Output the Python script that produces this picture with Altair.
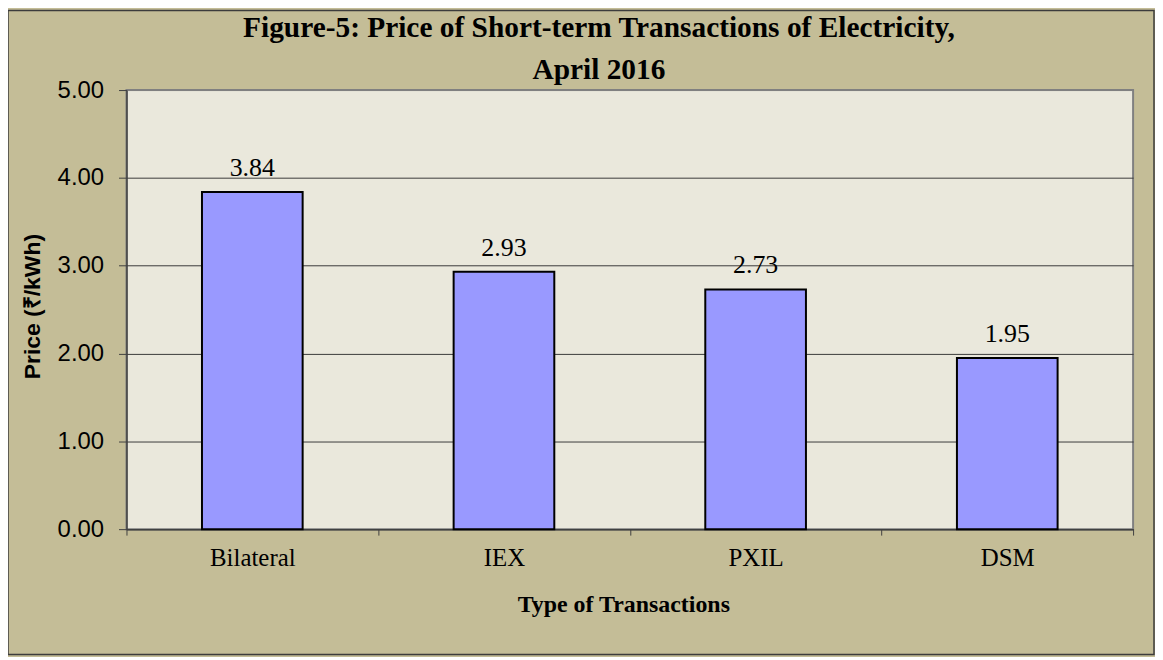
import altair as alt
import pandas as pd

categories = ["Bilateral", "IEX", "PXIL", "DSM"]
prices = [3.84, 2.93, 2.73, 1.95]
y_ticks = [0, 1, 2, 3, 4, 5]

df = pd.DataFrame({"type": categories, "price": prices})

SERIF = "Liberation Serif"
SANS = "Liberation Sans"

x_enc = alt.X(
    "type:N",
    sort=categories,
    scale=alt.Scale(paddingInner=0, paddingOuter=0),
    axis=alt.Axis(
        title="Type of Transactions",
        titleFont=SERIF, titleFontSize=24, titleFontWeight="bold", titleColor="black",
        titleBaseline="alphabetic", titleX=499, titleY=83, titleAnchor="start", titleAlign="center",
        labelFont=SERIF, labelFontSize=25, labelColor="black", labelAngle=0,
        labelBaseline="alphabetic", labelPadding=31,
        tickBand="extent", tickSize=6, tickColor="#404040", tickWidth=1,
        domainColor="#404040", domainWidth=1.5,
        grid=False,
    ),
)

y_enc = alt.Y(
    "price:Q",
    scale=alt.Scale(domain=[0, 5], nice=False, zero=True),
    axis=alt.Axis(
        title="Price (₹/kWh)",
        titleFont=SANS, titleFontSize=23, titleFontWeight="bold", titleColor="black",
        titleAngle=-90, titleBaseline="middle", titleAlign="center",
        titleX=-94, titleY=217, titleAnchor="start",
        values=y_ticks, format=".2f",
        labelFont=SANS, labelFontSize=24, labelColor="black", labelPadding=15,
        tickSize=8, tickColor="#404040", tickWidth=1,
        domainColor="#404040", domainWidth=1.5,
        grid=True,
        gridColor=alt.condition("datum.value >= 5", alt.value("#808080"), alt.value("#3a3a3a")),
        gridWidth=1,
    ),
)

bars = alt.Chart(df).mark_bar(
    color="#9999FF", stroke="black", strokeWidth=2, width=alt.RelativeBandSize(0.4)
).encode(x=x_enc, y=y_enc)

labels = alt.Chart(df).mark_text(
    font=SERIF, fontSize=26, color="black", baseline="alphabetic", dy=-16
).encode(x=alt.X("type:N", sort=categories), y="price:Q", text=alt.Text("price:Q", format=".2f"))

frame = alt.Chart(alt.Data(values=[{"a": 1}])).mark_rect(
    fill=None, stroke="#3c3c3c", strokeWidth=1.5
).encode(
    x=alt.value(-119), x2=alt.value(1032),
    y=alt.value(-80), y2=alt.value(567),
)

chart = alt.layer(bars, labels, frame).properties(
    width=1011,
    height=441,
    title=alt.TitleParams(
        text=["Figure-5: Price of Short-term Transactions of Electricity,", "April 2016"],
        font=SERIF, fontSize=29.5, fontWeight="bold", color="black",
        anchor="middle", frame="group", dx=-31, dy=82, lineHeight=42, offset=6,
    ),
    padding={"left": 119, "top": 81, "right": 22, "bottom": 127},
    autosize=alt.AutoSizeParams(type="none"),
).configure(
    background="#C4BD97",
).configure_view(
    fill="#EAE8DC", stroke="#808080", strokeWidth=2,
)

chart.save("out.html", embed_options={"renderer": "svg", "actions": False})
